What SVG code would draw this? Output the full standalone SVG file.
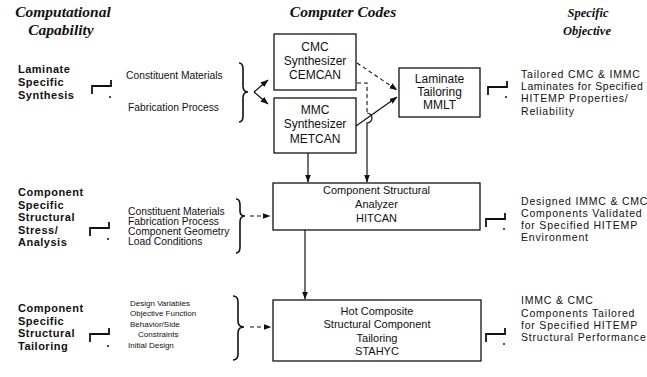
<svg xmlns="http://www.w3.org/2000/svg" width="647" height="377" viewBox="0 0 647 377">
  <style>
    .hdr { font-family: "Liberation Serif", serif; font-style: italic; font-weight: bold; font-size: 15.5px; fill: #111; text-anchor: middle; }
    .hdr-s { font-family: "Liberation Serif", serif; font-style: italic; font-weight: bold; font-size: 12.5px; fill: #111; text-anchor: middle; }
    .cap { font-family: "Liberation Sans", Arial, sans-serif; font-weight: bold; font-size: 11px; letter-spacing: 0.5px; fill: #111; }
    .inp { font-family: "Liberation Sans", Arial, sans-serif; font-size: 10.3px; fill: #111; }
    .inp3 { font-family: "Liberation Sans", Arial, sans-serif; font-size: 8px; fill: #111; }
    .box { fill: #fff; stroke: #111; stroke-width: 1.3; }
    .btxt { font-family: "Liberation Sans", Arial, sans-serif; font-size: 12px; fill: #111; text-anchor: middle; }
    .btxt2 { font-family: "Liberation Sans", Arial, sans-serif; font-size: 11px; fill: #111; text-anchor: middle; }
    .obj { font-family: "Liberation Sans", Arial, sans-serif; font-size: 10.5px; letter-spacing: 0.8px; fill: #111; }
    .obj-n { letter-spacing: 0.55px; }
    .ln { fill: none; stroke: #111; stroke-width: 1.2; }
    .dash { fill: none; stroke: #111; stroke-width: 1.1; stroke-dasharray: 4 3; }
    .brace { fill: none; stroke: #111; stroke-width: 1.6; }
    .sym { fill: none; stroke: #111; stroke-width: 1.8; }
  </style>
  <defs>
    <marker id="ah" viewBox="0 0 8 6" refX="7.5" refY="3" markerWidth="8" markerHeight="6" markerUnits="userSpaceOnUse" orient="auto">
      <path d="M0,0 L8,3 L0,6 Z" fill="#111"/>
    </marker>
  </defs>

  <rect width="647" height="377" fill="#fff"/>

  <!-- column headings -->
  <g id="headings">
    <text class="hdr" x="63" y="17">Computational</text>
    <text class="hdr" x="61" y="35">Capability</text>
    <text class="hdr" x="343" y="17">Computer Codes</text>
    <text class="hdr-s" x="588" y="17">Specific</text>
    <text class="hdr-s" x="587" y="35">Objective</text>
  </g>

  <!-- capability labels -->
  <g id="cap-laminate">
    <text class="cap" x="18" y="73">Laminate</text>
    <text class="cap" x="18" y="86">Specific</text>
    <text class="cap" x="18" y="99">Synthesis</text>
    <path class="sym" d="M92,94 V86 H111 V80"/>
    <circle cx="110" cy="97" r="1" fill="#111"/>
  </g>
  <g id="cap-analysis">
    <text class="cap" x="18" y="196">Component</text>
    <text class="cap" x="18" y="208.5">Specific</text>
    <text class="cap" x="18" y="221">Structural</text>
    <text class="cap" x="18" y="233.5">Stress/</text>
    <text class="cap" x="18" y="246">Analysis</text>
    <path class="sym" d="M90,236 V228 H109 V222"/>
    <circle cx="108" cy="239" r="1" fill="#111"/>
  </g>
  <g id="cap-tailoring">
    <text class="cap" x="18" y="312">Component</text>
    <text class="cap" x="18" y="324.5">Specific</text>
    <text class="cap" x="18" y="337">Structural</text>
    <text class="cap" x="18" y="349.5">Tailoring</text>
    <path class="sym" d="M90,342 V334 H109 V328"/>
    <circle cx="108" cy="346" r="1" fill="#111"/>
  </g>

  <!-- inputs -->
  <g id="inputs-laminate">
    <text class="inp" x="126" y="79">Constituent Materials</text>
    <text class="inp" x="128" y="111">Fabrication Process</text>
    <path class="brace" d="M239,63 Q243,63 243,69 V86 Q243,92 248,92 Q243,92 243,98 V116 Q243,122 239,122"/>
  </g>
  <g id="inputs-analysis">
    <text class="inp" x="128" y="215">Constituent Materials</text>
    <text class="inp" x="128" y="225">Fabrication Process</text>
    <text class="inp" x="128" y="235">Component Geometry</text>
    <text class="inp" x="128" y="245">Load Conditions</text>
    <path class="brace" d="M236,199 Q240,199 240,205 V211 Q240,216 245,216 Q240,216 240,222 V247 Q240,253 236,253"/>
  </g>
  <g id="inputs-tailoring">
    <text class="inp3" x="130" y="306">Design Variables</text>
    <text class="inp3" x="130" y="316">Objective Function</text>
    <text class="inp3" x="130" y="327">Behavior/Side</text>
    <text class="inp3" x="138" y="337">Constraints</text>
    <text class="inp3" x="128" y="348">Initial Design</text>
    <path class="brace" d="M233,296 Q238,296 238,302 V321 Q238,327 244,327 Q238,327 238,333 V354 Q238,360 233,360"/>
  </g>

  <!-- code boxes -->
  <g id="cemcan">
    <rect class="box" x="274" y="34" width="82" height="56"/>
    <text class="btxt" x="315" y="51">CMC</text>
    <text class="btxt" x="315" y="65">Synthesizer</text>
    <text class="btxt" x="315" y="79">CEMCAN</text>
  </g>
  <g id="metcan">
    <rect class="box" x="274" y="98" width="82" height="55"/>
    <text class="btxt" x="315" y="114">MMC</text>
    <text class="btxt" x="315" y="128">Synthesizer</text>
    <text class="btxt" x="315" y="143">METCAN</text>
  </g>
  <g id="mmlt">
    <rect class="box" x="399" y="68" width="81" height="49"/>
    <text class="btxt" x="439.5" y="83">Laminate</text>
    <text class="btxt" x="439.5" y="96">Tailoring</text>
    <text class="btxt" x="439.5" y="109">MMLT</text>
  </g>
  <g id="hitcan">
    <rect class="box" x="273" y="183" width="207" height="47"/>
    <text class="btxt2" x="376.5" y="194">Component Structural</text>
    <text class="btxt2" x="376.5" y="208">Analyzer</text>
    <text class="btxt2" x="376.5" y="222">HITCAN</text>
  </g>
  <g id="stahyc">
    <rect class="box" x="273" y="300" width="208" height="61"/>
    <text class="btxt2" x="377" y="315">Hot Composite</text>
    <text class="btxt2" x="377" y="328">Structural Component</text>
    <text class="btxt2" x="377" y="342">Tailoring</text>
    <text class="btxt2" x="377" y="355">STAHYC</text>
  </g>

  <!-- objectives -->
  <g id="obj-laminate">
    <path class="sym" d="M488,95 V87 H507 V81"/>
    <circle cx="506" cy="97" r="1" fill="#111"/>
    <text class="obj" x="521" y="78">Tailored CMC &amp; IMMC</text>
    <text class="obj obj-n" x="521" y="90">Laminates for Specified</text>
    <text class="obj" x="521" y="102">HITEMP Properties/</text>
    <text class="obj" x="521" y="115">Reliability</text>
  </g>
  <g id="obj-analysis">
    <path class="sym" d="M486,227 V219 H505 V213"/>
    <circle cx="504" cy="229" r="1" fill="#111"/>
    <text class="obj" x="521" y="205">Designed IMMC &amp; CMC</text>
    <text class="obj" x="521" y="217">Components Validated</text>
    <text class="obj" x="521" y="229">for Specified HITEMP</text>
    <text class="obj" x="521" y="241">Environment</text>
  </g>
  <g id="obj-tailoring">
    <path class="sym" d="M486,342 V334 H505 V328"/>
    <circle cx="504" cy="344" r="1" fill="#111"/>
    <text class="obj" x="521" y="304">IMMC &amp; CMC</text>
    <text class="obj" x="521" y="317">Components Tailored</text>
    <text class="obj" x="521" y="329">for Specified HITEMP</text>
    <text class="obj" x="521" y="341">Structural Performance</text>
  </g>

  <!-- connectors -->
  <g id="connectors">
    <path class="ln" d="M254,92 L268,80" marker-end="url(#ah)"/>
    <path class="ln" d="M254,92 L268,104" marker-end="url(#ah)"/>
    <path class="dash" d="M357,63 L397,90" marker-end="url(#ah)"/>
    <path class="ln" d="M356,126 L397,97" marker-end="url(#ah)"/>
    <path class="dash" d="M357,83 H367 V113"/>
    <path class="ln" d="M367,113 A5,5 0 0 1 367,123 V182" marker-end="url(#ah)"/>
    <path class="ln" d="M308,153 V182" marker-end="url(#ah)"/>
    <path class="ln" d="M305,230 V299" marker-end="url(#ah)"/>
    <path class="dash" d="M250,216 H270" marker-end="url(#ah)"/>
    <path class="dash" d="M250,327 H271" marker-end="url(#ah)"/>
  </g>
</svg>
